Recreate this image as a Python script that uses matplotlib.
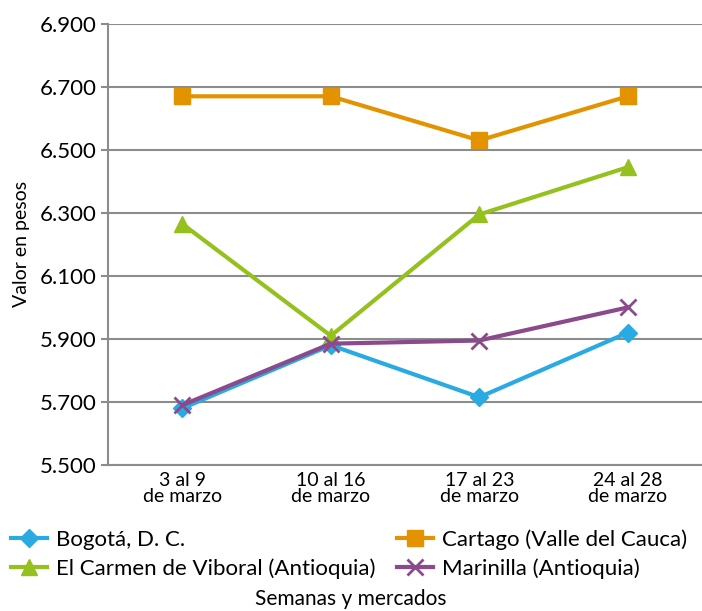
import matplotlib.pyplot as plt

# Datos
semanas = ['3 al 9\nde marzo', '10 al 16\nde marzo', '17 al 23\nde marzo', '24 al 28\nde marzo']
bogota = [5680, 5880, 5715, 5920]
cartago = [6670, 6670, 6530, 6670]
carmen = [6265, 5910, 6295, 6445]
marinilla = [5690, 5885, 5895, 6000]

yticks = [5500, 5700, 5900, 6100, 6300, 6500, 6700, 6900]
ytick_labels = ['5.500', '5.700', '5.900', '6.100', '6.300', '6.500', '6.700', '6.900']

plt.rcParams['font.family'] = ['Lato', 'DejaVu Sans']

fig = plt.figure(figsize=(7.02, 6.11), dpi=100)
ax = fig.add_axes([0.154, 0.239, 0.846, 0.722])

x = range(len(semanas))
l1, = ax.plot(x, bogota, color='#29ABE2', lw=3, marker='D', ms=9, label='Bogotá, D. C.')
l2, = ax.plot(x, cartago, color='#E39300', lw=3, marker='s', ms=11, label='Cartago (Valle del Cauca)')
l3, = ax.plot(x, carmen, color='#95C11F', lw=3, marker='^', ms=11, label='El Carmen de Viboral (Antioquia)')
l4, = ax.plot(x, marinilla, color='#8B4A8C', lw=3, marker='x', ms=12, mew=2, label='Marinilla (Antioquia)')

ax.set_xlim(-0.5, 3.5)
ax.set_ylim(5500, 6900)
ax.set_yticks(yticks)
ax.set_yticklabels(ytick_labels, fontsize=16)
ax.set_xticks(list(x))
ax.set_xticklabels(semanas, fontsize=14, linespacing=0.9)
ax.tick_params(axis='x', length=0, pad=5)
ax.tick_params(axis='y', length=5, color='#8c8c8c', width=1.5, pad=3)
ax.yaxis.grid(True, color='#8c8c8c', lw=1.5)
ax.set_axisbelow(True)
for s in ['top', 'right']:
    ax.spines[s].set_visible(False)
ax.spines['left'].set_color('#8c8c8c')
ax.spines['left'].set_linewidth(1.5)
ax.spines['bottom'].set_color('#8c8c8c')
ax.spines['bottom'].set_linewidth(1.5)
ax.set_ylabel('Valor en pesos', fontsize=14, labelpad=7)

fig.legend(handles=[l1, l3, l2, l4], ncol=2, loc='upper left', bbox_to_anchor=(0.0, 0.152),
           frameon=False, fontsize=16, handlelength=1.6, handletextpad=0.4,
           columnspacing=1.0, labelspacing=0.38, borderaxespad=0.1)
fig.text(0.5, 0.003, 'Semanas y mercados', ha='center', va='bottom', fontsize=15)

plt.savefig('out.png', dpi=100)
